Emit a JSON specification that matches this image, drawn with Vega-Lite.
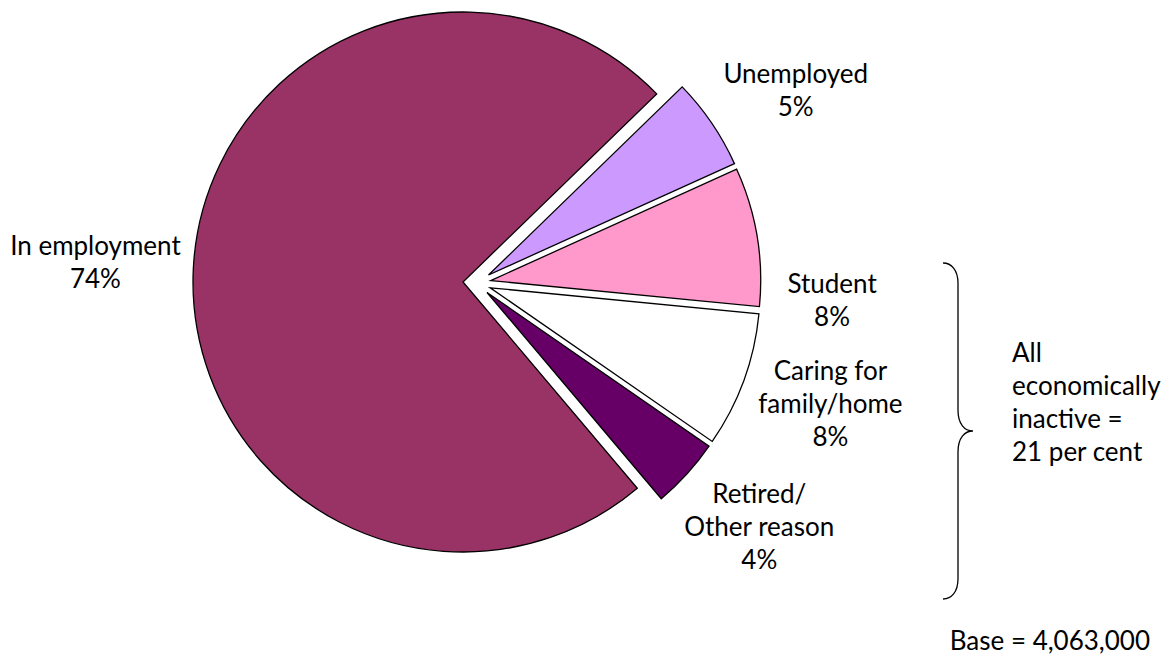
{
  "$schema": "https://vega.github.io/schema/vega-lite/v6.json",
  "width": 954,
  "height": 566,
  "padding": 0,
  "autosize": {"type": "pad"},
  "background": "#ffffff",
  "config": {"view": {"stroke": null}, "text": {"font": "Lato", "fontSize": 26, "color": "#000000"}},
  "datasets": {
    "main": [
      {"category": "Unemployed", "value": 5.5, "order": 1, "label": "Unemployed\n5%"},
      {"category": "Student", "value": 8.3, "order": 2, "label": "Student\n8%"},
      {"category": "Caring for family/home", "value": 8.1, "order": 3, "label": "Caring for\nfamily/home\n8%"},
      {"category": "Retired/Other reason", "value": 4.2, "order": 4, "label": "Retired/\nOther reason\n4%"},
      {"category": "In employment", "value": 73.9, "order": 5, "label": "In employment\n74%"}
    ],
    "notes": [
      {"kind": "inactive", "text": "All\neconomically\ninactive =\n21 per cent"},
      {"kind": "base", "text": "Base = 4,063,000"}
    ]
  },
  "data": {"name": "main"},
  "layer": [
    {
      "encoding": {
        "theta": {"field": "value", "type": "quantitative", "stack": true, "scale": {"domain": [0, 100], "range": [0.8, 7.0832]}},
        "order": {"field": "order", "type": "quantitative"},
        "opacity": {"condition": {"test": "datum.category === 'In employment'", "value": 1}, "value": 0}
      },
      "layer": [
        {"mark": {"type": "arc", "outerRadius": 270, "xOffset": -14, "yOffset": -1, "stroke": "#000000", "strokeWidth": 1.3},
         "encoding": {"color": {"field": "category", "type": "nominal", "scale": {"domain": ["In employment", "Unemployed", "Student", "Caring for family/home", "Retired/Other reason"], "range": ["#993366", "#CC99FF", "#FF99CC", "#FFFFFF", "#660066"]}, "legend": null}}},
        {"mark": {"type": "text", "radius": 368, "thetaOffset": 0, "xOffset": -14, "yOffset": -1, "dy": -16.5, "lineBreak": "\n", "lineHeight": 33, "font": "Lato", "fontSize": 26, "fill": "#000000", "align": "center", "baseline": "middle"},
         "encoding": {"text": {"field": "label"}}}
      ]
    },
    {
      "encoding": {
        "theta": {"field": "value", "type": "quantitative", "stack": true, "scale": {"domain": [0, 100], "range": [0.8, 7.0832]}},
        "order": {"field": "order", "type": "quantitative"},
        "opacity": {"condition": {"test": "datum.category === 'Unemployed'", "value": 1}, "value": 0}
      },
      "layer": [
        {"mark": {"type": "arc", "outerRadius": 270, "xOffset": 11.5, "yOffset": -8, "stroke": "#000000", "strokeWidth": 1.3},
         "encoding": {"color": {"field": "category", "type": "nominal", "scale": {"domain": ["In employment", "Unemployed", "Student", "Caring for family/home", "Retired/Other reason"], "range": ["#993366", "#CC99FF", "#FF99CC", "#FFFFFF", "#660066"]}, "legend": null}}},
        {"mark": {"type": "text", "radius": 358, "thetaOffset": 0.059, "xOffset": 11.5, "yOffset": -8, "dy": -16.5, "lineBreak": "\n", "lineHeight": 33, "font": "Lato", "fontSize": 26, "fill": "#000000", "align": "center", "baseline": "middle"},
         "encoding": {"text": {"field": "label"}}}
      ]
    },
    {
      "encoding": {
        "theta": {"field": "value", "type": "quantitative", "stack": true, "scale": {"domain": [0, 100], "range": [0.8, 7.0832]}},
        "order": {"field": "order", "type": "quantitative"},
        "opacity": {"condition": {"test": "datum.category === 'Student'", "value": 1}, "value": 0}
      },
      "layer": [
        {"mark": {"type": "arc", "outerRadius": 270, "xOffset": 13.7, "yOffset": -2.4, "stroke": "#000000", "strokeWidth": 1.3},
         "encoding": {"color": {"field": "category", "type": "nominal", "scale": {"domain": ["In employment", "Unemployed", "Student", "Caring for family/home", "Retired/Other reason"], "range": ["#993366", "#CC99FF", "#FF99CC", "#FFFFFF", "#660066"]}, "legend": null}}},
        {"mark": {"type": "text", "radius": 342, "thetaOffset": 0.225, "xOffset": 13.7, "yOffset": -2.4, "dy": -16.5, "lineBreak": "\n", "lineHeight": 33, "font": "Lato", "fontSize": 26, "fill": "#000000", "align": "center", "baseline": "middle"},
         "encoding": {"text": {"field": "label"}}}
      ]
    },
    {
      "encoding": {
        "theta": {"field": "value", "type": "quantitative", "stack": true, "scale": {"domain": [0, 100], "range": [0.8, 7.0832]}},
        "order": {"field": "order", "type": "quantitative"},
        "opacity": {"condition": {"test": "datum.category === 'Caring for family/home'", "value": 1}, "value": 0}
      },
      "layer": [
        {"mark": {"type": "arc", "outerRadius": 270, "xOffset": 13.2, "yOffset": 4.8, "stroke": "#000000", "strokeWidth": 1.3},
         "encoding": {"color": {"field": "category", "type": "nominal", "scale": {"domain": ["In employment", "Unemployed", "Student", "Caring for family/home", "Retired/Other reason"], "range": ["#993366", "#CC99FF", "#FF99CC", "#FFFFFF", "#660066"]}, "legend": null}}},
        {"mark": {"type": "text", "radius": 360, "thetaOffset": -0.018, "xOffset": 13.2, "yOffset": 4.8, "dy": -33, "lineBreak": "\n", "lineHeight": 33, "font": "Lato", "fontSize": 26, "fill": "#000000", "align": "center", "baseline": "middle"},
         "encoding": {"text": {"field": "label"}}}
      ]
    },
    {
      "encoding": {
        "theta": {"field": "value", "type": "quantitative", "stack": true, "scale": {"domain": [0, 100], "range": [0.8, 7.0832]}},
        "order": {"field": "order", "type": "quantitative"},
        "opacity": {"condition": {"test": "datum.category === 'Retired/Other reason'", "value": 1}, "value": 0}
      },
      "layer": [
        {"mark": {"type": "arc", "outerRadius": 270, "xOffset": 10, "yOffset": 9.5, "stroke": "#000000", "strokeWidth": 1.3},
         "encoding": {"color": {"field": "category", "type": "nominal", "scale": {"domain": ["In employment", "Unemployed", "Student", "Caring for family/home", "Retired/Other reason"], "range": ["#993366", "#CC99FF", "#FF99CC", "#FFFFFF", "#660066"]}, "legend": null}}},
        {"mark": {"type": "text", "radius": 360, "thetaOffset": -0.024, "xOffset": 10, "yOffset": 9.5, "dy": -33, "lineBreak": "\n", "lineHeight": 33, "font": "Lato", "fontSize": 26, "fill": "#000000", "align": "center", "baseline": "middle"},
         "encoding": {"text": {"field": "label"}}}
      ]
    },
    {
      "data": {"name": "notes"},
      "transform": [{"filter": "datum.kind === 'inactive'"}],
      "mark": {"type": "text", "align": "left", "baseline": "alphabetic", "lineBreak": "\n", "lineHeight": 33, "font": "Lato", "fontSize": 26, "fill": "#000000"},
      "encoding": {
        "x": {"datum": 535, "type": "quantitative", "scale": {"domain": [-477, 477], "nice": false, "zero": false}, "axis": null},
        "y": {"datum": -79, "type": "quantitative", "scale": {"domain": [-283, 283], "nice": false, "zero": false}, "axis": null},
        "text": {"field": "text"}
      }
    },
    {
      "data": {"name": "notes"},
      "transform": [{"filter": "datum.kind === 'base'"}],
      "mark": {"type": "text", "align": "right", "baseline": "alphabetic", "font": "Lato", "fontSize": 26, "fill": "#000000"},
      "encoding": {
        "x": {"datum": 673, "type": "quantitative", "scale": {"domain": [-477, 477], "nice": false, "zero": false}, "axis": null},
        "y": {"datum": -367, "type": "quantitative", "scale": {"domain": [-283, 283], "nice": false, "zero": false}, "axis": null},
        "text": {"field": "text"}
      }
    },
    {
      "data": {"name": "notes"},
      "transform": [{"filter": "datum.kind === 'inactive'"}],
      "mark": {"type": "point", "shape": "M-0.089,-1 C-0.04,-1 0,-0.96 0,-0.88 L0,-0.125 C0,-0.04 0.04,0 0.089,0 C0.04,0 0,0.04 0,0.125 L0,0.88 C0,0.96 -0.04,1 -0.089,1", "size": 112896, "filled": false, "stroke": "#000000", "strokeWidth": 1.3, "opacity": 1},
      "encoding": {
        "x": {"datum": 481, "type": "quantitative", "scale": {"domain": [-477, 477], "nice": false, "zero": false}, "axis": null},
        "y": {"datum": -148, "type": "quantitative", "scale": {"domain": [-283, 283], "nice": false, "zero": false}, "axis": null}
      }
    }
  ]
}
